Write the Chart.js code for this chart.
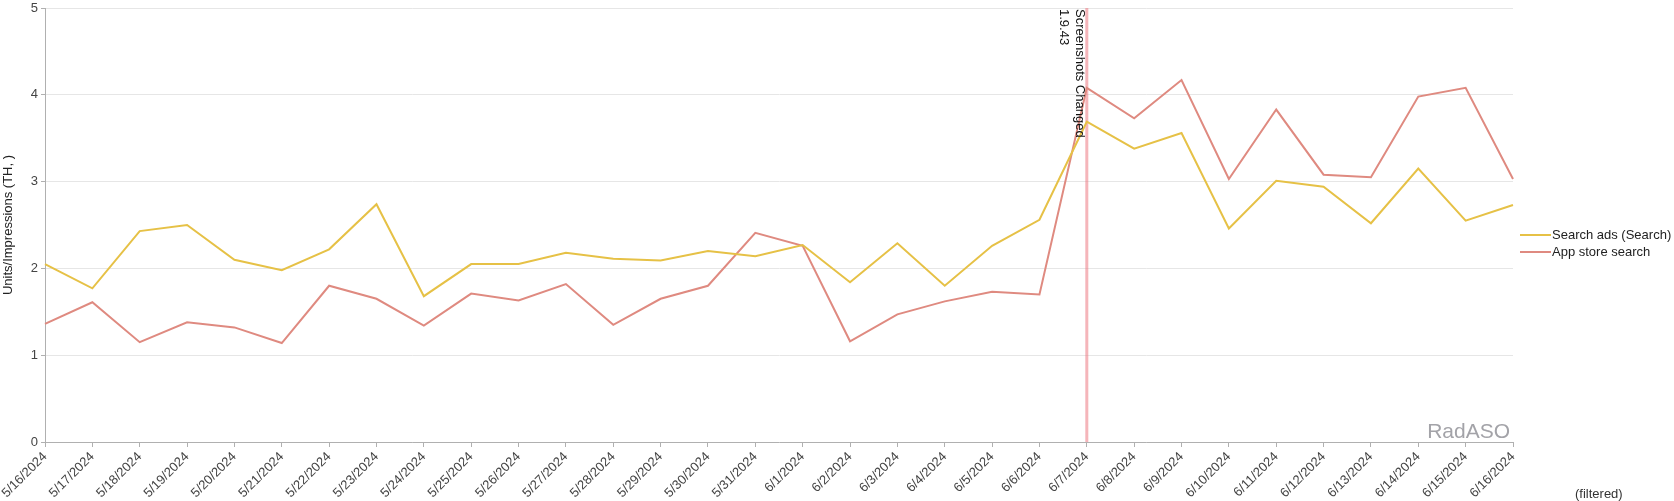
<!DOCTYPE html>
<html>
<head>
<meta charset="utf-8">
<script src="https://cdn.jsdelivr.net/npm/chart.js@4"></script>
<style>
  html, body { margin: 0; padding: 0; background: #fff; }
  #wrap { width: 1674px; height: 501px; }
</style>
</head>
<body>
<div id="wrap"><canvas id="chartImpressions"></canvas></div>
<script>
// dates on the x axis
const labels = [
    "5/16/2024", "5/17/2024", "5/18/2024", "5/19/2024", "5/20/2024", "5/21/2024",
    "5/22/2024", "5/23/2024", "5/24/2024", "5/25/2024", "5/26/2024", "5/27/2024",
    "5/28/2024", "5/29/2024", "5/30/2024", "5/31/2024", "6/1/2024", "6/2/2024",
    "6/3/2024", "6/4/2024", "6/5/2024", "6/6/2024", "6/7/2024", "6/8/2024",
    "6/9/2024", "6/10/2024", "6/11/2024", "6/12/2024", "6/13/2024", "6/14/2024",
    "6/15/2024", "6/16/2024",
];

// impressions, thousands
const searchAds = [
    2.05, 1.77, 2.43, 2.50, 2.10, 1.98, 2.22, 2.74, 1.68, 2.05, 2.05, 2.18,
    2.11, 2.09, 2.20, 2.14, 2.27, 1.84, 2.29, 1.80, 2.26, 2.56, 3.69, 3.38,
    3.56, 2.46, 3.01, 2.94, 2.52, 3.15, 2.55, 2.73,
];
const appStoreSearch = [
    1.36, 1.61, 1.15, 1.38, 1.32, 1.14, 1.80, 1.65, 1.34, 1.71, 1.63, 1.82,
    1.35, 1.65, 1.80, 2.41, 2.26, 1.16, 1.47, 1.62, 1.73, 1.70, 4.08, 3.73,
    4.17, 3.03, 3.83, 3.08, 3.05, 3.98, 4.08, 3.03,
];

const seriesNames = ["Search ads (Search)", "App store search"];
const yTicks = [0, 1, 2, 3, 4, 5];

// release marker
const eventDate = "6/7/2024";
const eventLines = ["Screenshots Changed", "1.9.43"];

const yellowColor = "#e6c146";
const redColor = "#df8a80";
const textColor = "#444";
const fontFamily = "'Liberation Sans', Arial, sans-serif";

// annotation, legend, watermark and footer text
const extrasPlugin = {
    id: "extras",
    beforeDatasetsDraw(chart) {
        const { ctx, chartArea, scales } = chart;
        const x = scales.x.getPixelForValue(labels.indexOf(eventDate));
        ctx.save();
        ctx.strokeStyle = "rgba(236, 120, 130, 0.55)";
        ctx.lineWidth = 3;
        ctx.beginPath();
        ctx.moveTo(x, chartArea.top);
        ctx.lineTo(x, chartArea.bottom);
        ctx.stroke();
        ctx.restore();
    },
    afterDraw(chart) {
        const { ctx, chartArea, scales } = chart;
        const x = scales.x.getPixelForValue(labels.indexOf(eventDate));

        // rotated event text
        ctx.save();
        ctx.translate(x - 1, chartArea.top + 1);
        ctx.rotate(Math.PI / 2);
        ctx.fillStyle = "#111";
        ctx.font = "13px " + fontFamily;
        ctx.textAlign = "left";
        ctx.textBaseline = "top";
        eventLines.forEach((line, i) => ctx.fillText(line, 0, i * 16));
        ctx.restore();

        // watermark
        ctx.save();
        ctx.fillStyle = "#a3a3a8";
        ctx.font = "21px " + fontFamily;
        ctx.textAlign = "right";
        ctx.textBaseline = "alphabetic";
        ctx.fillText("RadASO", chartArea.right - 3, chartArea.bottom - 4);
        ctx.restore();

        // legend
        ctx.save();
        ctx.font = "13px " + fontFamily;
        ctx.textBaseline = "middle";
        ctx.fillStyle = "#222";
        chart.data.datasets.forEach((ds, i) => {
            const ly = 235 + i * 17;
            ctx.strokeStyle = ds.borderColor;
            ctx.lineWidth = 2;
            ctx.beginPath();
            ctx.moveTo(chartArea.right + 7, ly);
            ctx.lineTo(chartArea.right + 38, ly);
            ctx.stroke();
            ctx.fillText(ds.label, chartArea.right + 39, ly);
        });
        ctx.restore();

        // footer
        ctx.save();
        ctx.font = "13px " + fontFamily;
        ctx.fillStyle = "#333";
        ctx.textAlign = "left";
        ctx.textBaseline = "middle";
        ctx.fillText("(filtered)", 1575, 494);
        ctx.restore();
    },
};

const ctx1 = document.getElementById("chartImpressions").getContext("2d");

new Chart(ctx1, {
    type: "line",
    data: {
        labels: labels,
        datasets: [
            {
                label: seriesNames[0],
                data: searchAds,
                borderColor: yellowColor,
                borderWidth: 2,
                pointRadius: 0,
                tension: 0,
            },
            {
                label: seriesNames[1],
                data: appStoreSearch,
                borderColor: redColor,
                borderWidth: 2,
                pointRadius: 0,
                tension: 0,
            },
        ],
    },
    options: {
        responsive: true,
        maintainAspectRatio: false,
        animation: false,
        layout: { padding: { top: 8, right: 161, left: 0, bottom: 0 } },
        scales: {
            x: {
                offset: false,
                border: { color: "#b0b0b0", width: 1 },
                grid: {
                    drawOnChartArea: false,
                    drawTicks: true,
                    tickLength: 5,
                    color: "#b0b0b0",
                },
                ticks: {
                    color: textColor,
                    autoSkip: false,
                    maxRotation: 45,
                    minRotation: 45,
                    padding: 2,
                    font: { size: 13, family: fontFamily },
                },
                afterFit(scale) {
                    scale.height = 59;
                    scale.paddingLeft = 0;
                    scale.paddingRight = 0;
                },
            },
            y: {
                min: 0,
                max: 5,
                border: { color: "#b0b0b0", width: 1 },
                grid: {
                    color: "#e6e6e6",
                    tickLength: 4,
                    tickColor: "#b0b0b0",
                },
                afterBuildTicks(scale) {
                    scale.ticks = yTicks.map((v) => ({ value: v }));
                },
                ticks: {
                    color: textColor,
                    padding: 3,
                    font: { size: 13, family: fontFamily },
                },
                title: {
                    display: true,
                    text: "Units/Impressions (TH, )",
                    color: "#222",
                    padding: { top: 1, bottom: 0 },
                    font: { size: 13, family: fontFamily },
                },
                afterFit(scale) {
                    scale.width = 45;
                    scale.paddingTop = 0;
                    scale.paddingBottom = 0;
                },
            },
        },
        plugins: {
            legend: { display: false },
            tooltip: { enabled: false },
        },
    },
    plugins: [extrasPlugin],
});
</script>
</body>
</html>
